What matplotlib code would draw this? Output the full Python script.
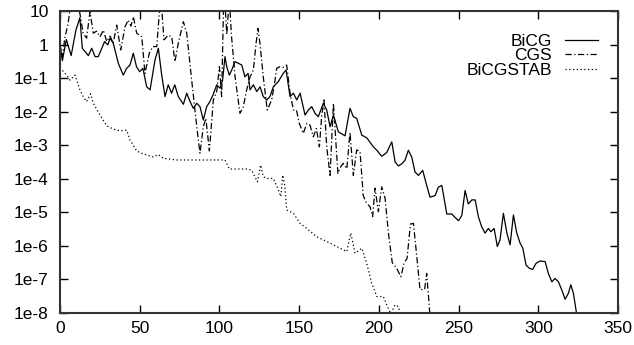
import numpy as np
import matplotlib.pyplot as plt

# log10 of the residual norm against the iteration count
bicg_it = [0, 1.5, 4, 7, 10, 12.5, 14, 17.8, 19.9, 22, 24, 28, 30, 31.4, 33.4, 36.6,
           39.7, 41.8, 43.9, 46, 48, 50, 52, 54.4, 56.5, 59.6, 61.7, 63.8, 65.9, 67.9,
           70, 72, 74.2, 77.4, 79.5, 81.6, 83.6, 85.8, 87.8, 89.9, 92, 94, 96, 98.3,
           100.4, 102, 103.5, 104.6, 106.2, 107.7, 109.8, 114, 116, 118, 119.2, 121.3,
           123.4, 125.5, 127.5, 129.7, 131.7, 133.8, 137, 140, 141.8, 144.3, 146.4,
           148.5, 150.6, 153.7, 155.8, 157.9, 160, 162, 165.2, 167.3, 169.4, 171.5,
           174.6, 178.8, 181.9, 184, 186.1, 189.3, 192.4, 196.6, 198.7, 201.8, 204.9,
           208.1, 210.2, 212.3, 214.4, 216.4, 218.5, 220.6, 222.7, 224.8, 227.5, 230,
           232.1, 235.3, 237.3, 239.5, 242.6, 245.7, 247.8, 249.9, 252, 254.1, 256.1,
           258.3, 260.4, 262.4, 264.5, 266.6, 268.7, 270.2, 272.3, 274.3, 276, 278.1,
           280.3, 282.3, 284.4, 286.5, 288.6, 290.3, 292.3, 294.4, 296.5, 298.6, 301.1,
           304.3, 306.3, 308.5, 310.5, 312.6, 314.7, 316.8, 318.9, 320.4, 322, 324.1]
bicg_res = [0.0, -0.48, 0.15, -0.33, 0.43, 0.8, -0.11, -0.33, -0.11, -0.36, -0.36, 0.09,
            -0.01, 0.19, 0.04, -0.56, -0.91, -0.71, -0.61, -0.26, -0.66, -0.81, -0.71,
            -1.26, -1.35, -0.46, -0.11, -0.91, -1.55, -1.2, -1.45, -1.2, -1.55, -1.78,
            -1.45, -1.7, -1.9, -1.75, -1.85, -2.25, -1.85, -1.7, -1.5, -1.2, -1.3, -1.06,
            -0.36, -0.66, -0.91, -0.76, -0.51, -0.61, -0.96, -0.86, -1.35, -1.2, -1.4,
            -1.26, -1.55, -1.65, -1.55, -1.26, -1.1, -0.86, -0.76, -1.55, -1.45, -1.65,
            -1.45, -2.1, -1.95, -1.85, -2.05, -2.15, -1.75, -1.95, -2.45, -2.1, -2.6,
            -2.72, -1.9, -2.15, -2.2, -2.7, -2.78, -3.05, -3.15, -3.33, -3.22, -2.9, -3.5,
            -3.62, -3.55, -3.45, -3.15, -3.35, -3.8, -3.9, -3.75, -4.2, -4.55, -4.5,
            -4.25, -4.2, -5.05, -5.05, -5.15, -5.25, -5.1, -4.35, -4.75, -4.63, -4.63,
            -5.13, -5.43, -5.62, -5.48, -5.58, -5.48, -6.02, -5.82, -5.03, -5.62, -5.97,
            -5.08, -5.62, -5.92, -6.07, -6.57, -6.67, -6.7, -6.52, -6.45, -6.47, -6.82,
            -7.07, -6.97, -7.07, -7.31, -7.59, -7.41, -7.16, -7.41, -8.05]

cgs_it = [0, 1.5, 3, 5, 7, 10, 12.5, 14.5, 16.7, 18.8, 20.9, 23, 25.1, 27.2, 29.3, 31.4,
          33.4, 35.6, 38.1, 40.8, 42.8, 44.5, 46, 48.1, 51.3, 53.3, 56, 58.2, 60.7, 62.3,
          63.5, 65.2, 67.9, 70.1, 72.1, 74.2, 77.4, 79.5, 82.6, 85.8, 87.8, 89.9, 91.5,
          93.7, 96.2, 98.3, 100, 101.4, 102.5, 103.3, 104.6, 106.2, 107.5, 109.8, 112.9,
          115, 117.1, 119.2, 121.3, 123, 124.2, 125.5, 127.5, 130, 132.8, 134.9, 135.9,
          138, 140, 142.2, 144.3, 146.4, 148.3, 150.1, 152.6, 154.8, 156.8, 158.9, 160.8,
          162.7, 164.1, 165.6, 167.3, 169.4, 171.5, 174.3, 176.1, 177.7, 179.9, 181.9,
          184, 186.1, 188.2, 190.2, 192.3, 194.4, 196.1, 197.6, 199.7, 201.8, 203.9, 206,
          208.4, 211.2, 213.8, 215.8, 217.7, 219.8, 221.7, 224.2, 225.8, 228.7, 230, 232.1]
cgs_res = [0.0, -0.4, 0.19, 0.6, 1.3, 1.4, 0.93, 0.34, 0.19, 0.98, 0.34, 0.4, 0.23, 0.43,
           0.09, 0.25, 0.04, 0.58, -0.16, 0.53, 0.73, 0.55, 0.83, 0.34, 0.23, -0.86, -0.26,
           -0.06, -0.06, 0.93, 1.3, 0.14, 0.28, 0.23, -0.51, 0.04, 0.68, 0.34, -1.06,
           -2.45, -3.24, -2.45, -2.2, -3.17, -1.65, -1.4, -0.66, -1.55, 0.98, 1.4, 0.3,
           1.4, 0.3, -0.96, -2.05, -1.85, -1.35, -0.96, -0.76, 0.04, 0.48, 0.0, -0.96,
           -1.95, -1.65, -1.06, -0.71, -0.66, -0.68, -0.61, -1.45, -1.95, -1.95, -2.35,
           -2.65, -2.35, -2.4, -2.75, -2.5, -3.05, -2.15, -1.65, -3.05, -3.9, -1.75,
           -3.84, -3.64, -3.54, -3.7, -2.62, -3.9, -3.14, -3.19, -4.5, -4.73, -4.83,
           -5.13, -4.28, -4.98, -4.24, -4.58, -5.62, -6.5, -6.67, -6.92, -6.52, -6.37,
           -5.35, -5.33, -6.52, -7.3, -7.3, -6.82, -8.1]

bicgstab_it = [0, 4.2, 6.3, 9.4, 12.5, 14.6, 16.7, 19.2, 20.9, 25.1, 29.3, 33.4, 37.6,
               41.8, 43.9, 48.1, 51.3, 54.4, 58.5, 61.7, 64.8, 73.2, 103.5, 106.2, 118.1,
               120.3, 123.8, 125.9, 127.5, 129.7, 133.8, 137, 138.5, 139.7, 141, 142.2,
               146.4, 150.6, 154.8, 161, 167.3, 173.6, 179.9, 182.4, 185.1, 189.3, 192.4,
               195.5, 198.7, 202.8, 205.4, 207.5, 210.2, 212.3, 213.5]
bicgstab_res = [-0.69, -0.91, -1.06, -0.91, -1.35, -1.55, -1.7, -1.47, -1.75, -2.1, -2.42,
                -2.52, -2.57, -2.55, -2.84, -3.17, -3.24, -3.29, -3.35, -3.28, -3.39, -3.44,
                -3.44, -3.71, -3.71, -3.75, -4.09, -3.59, -3.94, -3.99, -3.99, -4.33, -4.53,
                -3.89, -4.2, -4.93, -5.03, -5.33, -5.48, -5.73, -5.87, -6.02, -6.17, -5.62,
                -6.22, -6.07, -6.52, -7.11, -7.51, -7.51, -7.81, -8.02, -7.76, -7.81, -8.05]

yticks = [10, 1, 1e-1, 1e-2, 1e-3, 1e-4, 1e-5, 1e-6, 1e-7, 1e-8]
ylabels = ['10', '1', '1e-1', '1e-2', '1e-3', '1e-4', '1e-5', '1e-6', '1e-7', '1e-8']

plt.rcParams['font.family'] = ['Liberation Sans', 'DejaVu Sans']
plt.rcParams['font.size'] = 12.5

fig = plt.figure(figsize=(6.34, 3.45), dpi=100)
ax = fig.add_axes([0.0946, 0.0928, 0.8802, 0.8753])

ax.plot(bicg_it, 10.0 ** np.array(bicg_res), color='black', lw=0.9, label='BiCG')
ax.plot(cgs_it, 10.0 ** np.array(cgs_res), color='black', lw=0.9,
        linestyle=(0, (5, 2, 1, 2)), label='CGS')
ax.plot(bicgstab_it, 10.0 ** np.array(bicgstab_res), color='black', lw=0.9,
        linestyle=(0, (1, 2)), label='BiCGSTAB')

ax.set_yscale('log')
ax.set_xlim(0, 350)
ax.set_ylim(1e-8, 10)
ax.set_xticks([0, 50, 100, 150, 200, 250, 300, 350])
ax.set_yticks(yticks)
ax.set_yticklabels(ylabels)
ax.yaxis.set_minor_locator(plt.NullLocator())
ax.tick_params(which='major', direction='in', length=6, width=1, top=True, right=True,
               colors='black')
ax.tick_params(axis='y', pad=8)
ax.tick_params(axis='x', pad=6)
for s in ax.spines.values():
    s.set_linewidth(1.5)
    s.set_color('#333333')

# legend: labels right-aligned, line samples on the right
leg = ax.legend(loc='upper right', markerfirst=False, frameon=False, handlelength=1.9,
                labelspacing=-0.05, borderpad=0, borderaxespad=0, handletextpad=0.75,
                bbox_to_anchor=(598 / 634, 1 - 34 / 345), bbox_transform=fig.transFigure)

fig.savefig('out.png', dpi=100)
